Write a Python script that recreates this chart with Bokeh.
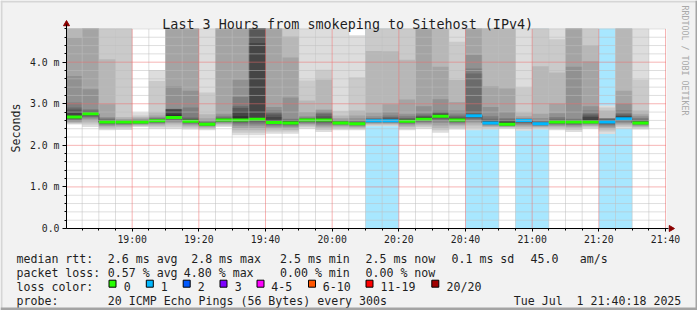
import math
from bokeh.plotting import figure
from bokeh.models import FixedTicker, Range1d, ColumnDataSource, LinearAxis
from bokeh.core.properties import value
from bokeh.embed import file_html
from bokeh.resources import INLINE

TITLE = "Last 3 Hours from smokeping to Sitehost (IPv4)"

# 5-minute rounds (start time of each round)
bar_start = ["18:40", "18:45", "18:50", "18:55", "19:00", "19:05", "19:10", "19:15",
             "19:20", "19:25", "19:30", "19:35", "19:40", "19:45", "19:50", "19:55",
             "20:00", "20:05", "20:10", "20:15", "20:20", "20:25", "20:30", "20:35",
             "20:40", "20:45", "20:50", "20:55", "21:00", "21:05", "21:10", "21:15",
             "21:20", "21:25", "21:30"]
STEP_MIN = 5

# median rtt per round (ms)
median_ms = [2.68, 2.76, 2.56, 2.56, 2.56, 2.59, 2.67, 2.58, 2.51, 2.61,
             2.61, 2.63, 2.55, 2.54, 2.61, 2.61, 2.54, 2.52, 2.59, 2.59,
             2.58, 2.63, 2.70, 2.61, 2.71, 2.54, 2.51, 2.60, 2.52, 2.56,
             2.56, 2.56, 2.56, 2.64, 2.54]

# lost pings (of 20) per round
loss = [0, 0, 0, 0, 0, 0, 0, 0, 0, 0,
        0, 0, 0, 0, 0, 0, 0, 0, 1, 1,
        0, 0, 0, 0, 1, 1, 0, 1, 1, 0,
        0, 0, 1, 1, 0]

# 20 sorted ping rtts per round (ms); values above ~4.8 are off the chart
pings_ms = [
    [2.50, 2.52, 2.54, 2.56, 2.58, 2.60, 2.62, 2.64, 2.65, 2.67, 2.70, 2.78, 2.86, 2.91, 3.03, 3.67, 4.59, 5.2, 5.6, 6.2],
    [2.44, 2.50, 2.55, 2.60, 2.64, 2.67, 2.69, 2.71, 2.73, 2.75, 2.78, 2.80, 2.82, 2.84, 2.87, 3.35, 5.2, 5.5, 5.9, 6.4],
    [2.36, 2.40, 2.43, 2.46, 2.48, 2.50, 2.52, 2.53, 2.54, 2.55, 2.57, 2.59, 2.61, 2.63, 2.65, 2.68, 2.99, 4.07, 5.3, 5.8],
    [2.37, 2.41, 2.44, 2.47, 2.49, 2.51, 2.52, 2.53, 2.54, 2.55, 2.57, 2.58, 2.59, 2.60, 2.61, 2.62, 2.64, 2.68, 5.4, 5.9],
    [2.44, 2.46, 2.48, 2.50, 2.51, 2.52, 2.53, 2.54, 2.545, 2.55, 2.57, 2.58, 2.59, 2.60, 2.61, 2.63, 2.65, 2.68, 2.72, 2.79],
    [2.40, 2.44, 2.47, 2.50, 2.52, 2.54, 2.55, 2.56, 2.57, 2.58, 2.60, 2.61, 2.62, 2.64, 2.66, 2.68, 2.72, 2.79, 3.55, 3.81],
    [2.40, 2.45, 2.50, 2.54, 2.57, 2.60, 2.62, 2.63, 2.64, 2.66, 2.74, 2.86, 2.87, 2.875, 2.88, 3.42, 5.2, 5.5, 5.9, 6.4],
    [2.38, 2.42, 2.45, 2.48, 2.50, 2.52, 2.54, 2.55, 2.56, 2.57, 2.60, 2.62, 2.64, 2.67, 2.91, 3.31, 5.3, 5.6, 6.0, 6.5],
    [2.36, 2.39, 2.42, 2.44, 2.46, 2.47, 2.48, 2.49, 2.50, 2.505, 2.52, 2.53, 2.54, 2.55, 2.57, 2.60, 2.65, 2.75, 3.27, 5.5],
    [2.44, 2.47, 2.50, 2.52, 2.54, 2.56, 2.57, 2.58, 2.59, 2.60, 2.62, 2.63, 2.65, 2.67, 2.70, 2.75, 5.2, 5.5, 5.9, 6.3],
    [2.24, 2.30, 2.36, 2.42, 2.47, 2.51, 2.54, 2.56, 2.58, 2.60, 2.70, 2.82, 2.90, 2.94, 3.16, 3.58, 5.3, 5.6, 6.0, 6.6],
    [2.24, 2.30, 2.36, 2.42, 2.47, 2.51, 2.55, 2.58, 2.60, 2.62, 2.66, 4.46, 5.0, 5.1, 5.2, 5.3, 5.5, 5.7, 6.0, 6.5],
    [2.28, 2.33, 2.38, 2.42, 2.45, 2.48, 2.50, 2.52, 2.53, 2.54, 2.60, 2.68, 2.74, 2.80, 2.84, 2.92, 5.1, 5.4, 5.8, 6.3],
    [2.28, 2.33, 2.37, 2.41, 2.44, 2.47, 2.49, 2.51, 2.52, 2.53, 2.56, 2.58, 2.60, 2.62, 2.64, 3.15, 4.11, 4.62, 5.3, 5.9],
    [2.40, 2.44, 2.47, 2.50, 2.52, 2.54, 2.56, 2.58, 2.59, 2.60, 2.62, 2.63, 2.64, 2.65, 2.67, 2.70, 2.80, 3.08, 3.56, 5.4],
    [2.32, 2.37, 2.41, 2.45, 2.48, 2.51, 2.54, 2.56, 2.58, 2.60, 2.63, 2.66, 2.70, 2.76, 2.80, 2.84, 2.86, 3.58, 3.82, 5.3],
    [2.36, 2.40, 2.43, 2.46, 2.48, 2.50, 2.51, 2.52, 2.53, 2.535, 2.55, 2.56, 2.57, 2.58, 2.60, 2.62, 2.66, 2.72, 2.83, 5.2],
    [2.36, 2.39, 2.42, 2.44, 2.46, 2.48, 2.49, 2.50, 2.51, 2.515, 2.53, 2.54, 2.55, 2.57, 2.60, 2.65, 2.72, 2.84, 3.64, 4.65],
    [2.46, 2.48, 2.50, 2.52, 2.54, 2.55, 2.56, 2.57, 2.58, 2.585, 2.60, 2.61, 2.62, 2.64, 2.66, 2.70, 2.79, 4.27, 5.3, 5.8],
    [2.46, 2.48, 2.50, 2.52, 2.54, 2.55, 2.56, 2.57, 2.58, 2.585, 2.61, 2.63, 2.65, 2.68, 2.72, 2.80, 2.99, 4.26, 5.2, 5.7],
    [2.36, 2.40, 2.44, 2.47, 2.50, 2.52, 2.54, 2.55, 2.56, 2.57, 2.60, 2.62, 2.64, 2.66, 2.70, 2.75, 3.10, 4.06, 5.3, 5.9],
    [2.40, 2.44, 2.48, 2.51, 2.54, 2.56, 2.58, 2.60, 2.61, 2.62, 2.66, 2.68, 2.70, 2.72, 2.76, 2.94, 5.2, 5.5, 5.9, 6.4],
    [2.30, 2.36, 2.42, 2.48, 2.54, 2.58, 2.62, 2.65, 2.67, 2.69, 2.73, 2.75, 2.77, 2.80, 2.83, 3.11, 3.89, 5.2, 5.6, 6.1],
    [2.38, 2.42, 2.46, 2.49, 2.52, 2.54, 2.56, 2.58, 2.59, 2.60, 2.63, 2.65, 2.67, 2.70, 2.74, 2.84, 3.04, 3.57, 4.49, 5.3],
    [2.36, 2.42, 2.48, 2.53, 2.57, 2.61, 2.64, 2.66, 2.68, 2.70, 2.73, 2.75, 2.76, 3.73, 3.85, 4.17, 5.2, 5.5, 5.9, 6.4],
    [2.38, 2.41, 2.44, 2.46, 2.48, 2.50, 2.51, 2.52, 2.53, 2.535, 2.56, 2.58, 2.60, 2.64, 2.70, 2.92, 3.42, 5.2, 5.6, 6.1],
    [2.40, 2.42, 2.44, 2.45, 2.46, 2.47, 2.48, 2.49, 2.50, 2.505, 2.53, 2.56, 2.60, 2.63, 2.66, 2.80, 3.37, 5.2, 5.6, 6.0],
    [2.35, 2.39, 2.43, 2.46, 2.49, 2.52, 2.54, 2.56, 2.58, 2.59, 2.605, 2.61, 2.62, 2.63, 2.64, 2.66, 2.70, 2.79, 3.39, 5.3],
    [2.38, 2.41, 2.43, 2.45, 2.47, 2.48, 2.49, 2.50, 2.51, 2.515, 2.53, 2.54, 2.55, 2.57, 2.60, 2.66, 2.76, 3.90, 5.2, 5.7],
    [2.36, 2.40, 2.43, 2.46, 2.48, 2.50, 2.52, 2.53, 2.54, 2.55, 2.57, 2.59, 2.61, 2.64, 2.68, 2.77, 3.00, 3.75, 4.55, 5.4],
    [2.32, 2.37, 2.41, 2.44, 2.47, 2.49, 2.51, 2.53, 2.54, 2.55, 2.58, 2.59, 2.60, 2.62, 2.64, 3.89, 5.2, 5.5, 5.9, 6.4],
    [2.40, 2.43, 2.46, 2.48, 2.50, 2.52, 2.53, 2.54, 2.55, 2.555, 2.62, 2.68, 2.72, 2.76, 2.84, 2.94, 4.02, 4.41, 5.3, 5.8],
    [2.27, 2.33, 2.38, 2.42, 2.45, 2.48, 2.50, 2.52, 2.54, 2.55, 2.60, 2.61, 2.62, 2.64, 2.645, 2.65, 2.66, 2.84, 2.91, 2.96],
    [2.40, 2.44, 2.48, 2.51, 2.54, 2.57, 2.59, 2.61, 2.62, 2.63, 2.68, 2.70, 2.72, 2.76, 2.84, 3.00, 3.31, 5.2, 5.6, 6.1],
    [2.38, 2.41, 2.44, 2.46, 2.48, 2.50, 2.51, 2.52, 2.53, 2.535, 2.55, 2.57, 2.59, 2.62, 2.66, 2.70, 2.75, 2.84, 3.58, 5.3],
]

# axis ticks (minutes after 18:00 / ms)
x_major = [60, 80, 100, 120, 140, 160, 180, 200, 220]
x_labels = ["19:00", "19:20", "19:40", "20:00", "20:20", "20:40", "21:00", "21:20", "21:40"]
y_major = [0, 1, 2, 3, 4]
y_labels = ["0.0", "1.0 m", "2.0 m", "3.0 m", "4.0 m"]

rtt_label = "median rtt:"
rtt_stats = ["2.6 ms avg", "2.8 ms max", "2.5 ms min", "2.5 ms now", "0.1 ms sd", "45.0", "am/s"]
loss_label = "packet loss:"
loss_stats = ["0.57 % avg", "4.80 % max", "0.00 % min", "0.00 % now"]
lc_label = "loss color:"
lc_names = ["0", "1", "2", "3", "4-5", "6-10", "11-19", "20/20"]
lc_colors = ["#26ff00", "#00b8ff", "#0059ff", "#7e00ff", "#ff00ff", "#ff5500", "#ff0000", "#a00000"]
probe_label = "probe:"
probe_text = "20 ICMP Echo Pings (56 Bytes) every 300s"
date_parts = ["Tue Jul", "1 21:40:18 2025"]
watermark = "RRDTOOL / TOBI OETIKER"

# ---------------------------------------------------------------- layout / styles
W, H = 697, 310
PL, PR, PT, PB = 66, 666, 28, 228      # plot area in canvas px
X0, X1 = 40.3, 220.3                   # minutes shown in plot area
Y0, Y1 = 0.0, 4.81                     # ms shown in plot area
KX = (X1 - X0) / (PR - PL)
KY = (Y1 - Y0) / (PB - PT)

def X(px):
    return X0 + (px - PL) * KX

def Y(py):
    return Y0 + (PB - py) * KY

MONO = "DejaVu Sans Mono"
TXT = "#1e1e1e"
SMOKE = ["#dddddd", "#cacaca", "#b7b7b7", "#a4a4a4", "#919191",
         "#7e7e7e", "#6b6b6b", "#585858", "#454545", "#323232"]

def loss_color(n):
    if n <= 3:
        return lc_colors[n]
    if n <= 5:
        return lc_colors[4]
    if n <= 10:
        return lc_colors[5]
    if n <= 19:
        return lc_colors[6]
    return lc_colors[7]

def to_min(hhmm):
    h, m = hhmm.split(":")
    return (int(h) - 18) * 60 + int(m)

def clipy(v):
    return max(Y0, min(Y1, v))

p = figure(width=W, height=H, output_backend="svg", toolbar_location=None,
           x_range=Range1d(X(0), X(W)), y_range=Range1d(Y(H), Y(0)),
           x_axis_type=None, y_axis_type=None, min_border=0)
p.background_fill_color = "#f2f2f2"
p.border_fill_color = "#f2f2f2"
p.outline_line_color = None
p.grid.visible = False

lefts = [max(X0, to_min(s)) for s in bar_start]
rights = [to_min(s) + STEP_MIN for s in bar_start]

# plot canvas
p.quad(left=[X0], right=[X1], bottom=[Y0], top=[Y1], fill_color="white", line_color=None)

# loss background columns
lb = [i for i, n in enumerate(loss) if n > 0]
p.quad(left=[lefts[i] for i in lb], right=[rights[i] for i in lb],
       bottom=[Y0] * len(lb), top=[Y1] * len(lb),
       fill_color=[loss_color(loss[i]) for i in lb], fill_alpha=0.34, line_color=None)

# smoke
for k in range(10):
    src = ColumnDataSource(dict(l=lefts, r=rights,
                                b=[clipy(pp[k]) for pp in pings_ms],
                                t=[clipy(pp[19 - k]) for pp in pings_ms]))
    p.quad(left="l", right="r", bottom="b", top="t", source=src,
           fill_color=SMOKE[k], line_color=None)

# median
p.step(x=lefts + [rights[-1]], y=median_ms + [median_ms[-1]], mode="after",
       line_color="#202020", line_width=1)
hw = 1.5 * KY
p.quad(left=lefts, right=rights, bottom=[m - hw for m in median_ms],
       top=[m + hw for m in median_ms],
       fill_color=[loss_color(n) for n in loss], line_color=None)

# grid (drawn over the data, limited to the plot area)
x_minor = [m for m in range(45, 221, 5) if m not in x_major]
y_minor = [round(v * 0.2, 1) for v in range(1, 25) if v % 5 != 0]
p.segment(x0=x_minor, x1=x_minor, y0=[Y0] * len(x_minor), y1=[Y1] * len(x_minor),
          line_color="#bdbdbd", line_width=1, line_dash="1 1")
p.segment(x0=[X0] * len(y_minor), x1=[X1] * len(y_minor), y0=y_minor, y1=y_minor,
          line_color="#bdbdbd", line_width=1, line_dash="1 1")
p.segment(x0=x_major, x1=x_major, y0=[Y0] * len(x_major), y1=[Y1] * len(x_major),
          line_color="#ee6a6a", line_width=1, line_dash="1 1")
p.segment(x0=[X0] * 4, x1=[X1] * 4, y0=y_major[1:], y1=y_major[1:],
          line_color="#ee6a6a", line_width=1, line_dash="1 1")

# axes fixed at the plot-area edges
xaxis = LinearAxis(fixed_location=Y0, bounds=(X0, X(668)),
                   ticker=FixedTicker(ticks=x_major, minor_ticks=x_minor))
xaxis.major_label_overrides = dict(zip(x_major, x_labels))
yaxis = LinearAxis(fixed_location=X0, bounds=(Y0, Y(24)),
                   ticker=FixedTicker(ticks=y_major, minor_ticks=y_minor))
yaxis.major_label_overrides = dict(zip(y_major, y_labels))
for ax in (xaxis, yaxis):
    ax.axis_line_color = "black"
    ax.major_tick_line_color = "black"
    ax.minor_tick_line_color = "black"
    ax.major_tick_in = 0
    ax.minor_tick_in = 0
    ax.minor_tick_out = 2
    ax.major_label_text_font = MONO
    ax.major_label_text_font_size = "9.8px"
    ax.major_label_text_color = TXT
xaxis.major_tick_out = 3
xaxis.major_label_standoff = 2
yaxis.major_tick_out = 4
yaxis.major_label_standoff = 3
p.add_layout(xaxis, "below")
p.add_layout(yaxis, "left")

# axis arrows
p.scatter(x=[X0], y=[Y(23.5)], marker="triangle", size=6,
          fill_color="#8b0000", line_color="#8b0000")
p.scatter(x=[X(670.5)], y=[Y0], marker="triangle", size=6, angle=-math.pi / 2,
          fill_color="#8b0000", line_color="#8b0000")

# ---------------------------------------------------------------- texts
def txt(text, px, py, size="11.6px", align="left", angle=0.0, color=TXT):
    p.text(x=[X(px)], y=[Y(py)], text=[text], angle=angle,
           text_font=value(MONO), text_font_size=value(size), text_color=color,
           text_align=value(align), text_baseline=value("alphabetic"))

txt(TITLE, 347.2, 24, size="13.4px", align="center")
txt("Seconds", 15.5, 127.5, align="center", angle=math.pi / 2)
txt(watermark, 684.5, 5, size="8.3px", angle=-math.pi / 2, color="#a9a9a9")

R1, R2, R3, R4 = 258, 272, 286, 300
txt(rtt_label, 16, R1)
for t, x in zip(rtt_stats, [107.3, 190.7, 279.5, 365, 451, 530, 579.3]):
    txt(t, x, R1)
txt(loss_label, 16, R2)
for t, x in zip(loss_stats, [107.3, 183.3, 279.5, 365]):
    txt(t, x, R2)
txt(lc_label, 16, R3)
sq_x = [108.5, 145.8, 182.7, 219.5, 256.5, 308, 365.5, 431.3]
p.quad(left=[X(x) for x in sq_x], right=[X(x + 7) for x in sq_x],
       top=[Y(R3 - 6.3)] * len(sq_x), bottom=[Y(R3 + 0.7)] * len(sq_x),
       fill_color=lc_colors, line_color="black", line_width=1)
for name, x in zip(lc_names, [123.3, 160.3, 197.3, 234.3, 270.7, 322.3, 380, 446]):
    txt(name, x, R3)
txt(probe_label, 16, R4)
txt(probe_text, 107.3, R4)
txt(date_parts[0], 513.3, R4)
txt(date_parts[1], 513.3 + 9 * 6.98, R4)

# 3D frame border
p.quad(left=[X(0), X(0)], right=[X(W), X(2)], top=[Y(0), Y(0)], bottom=[Y(2), Y(H)],
       fill_color="#d6d6d6", line_color=None)
p.quad(left=[X(0), X(W - 2)], right=[X(W), X(W)], top=[Y(H - 3), Y(0)], bottom=[Y(H), Y(H)],
       fill_color="#a4a4a4", line_color=None)

open("out.html", "w").write(file_html(p, INLINE))
